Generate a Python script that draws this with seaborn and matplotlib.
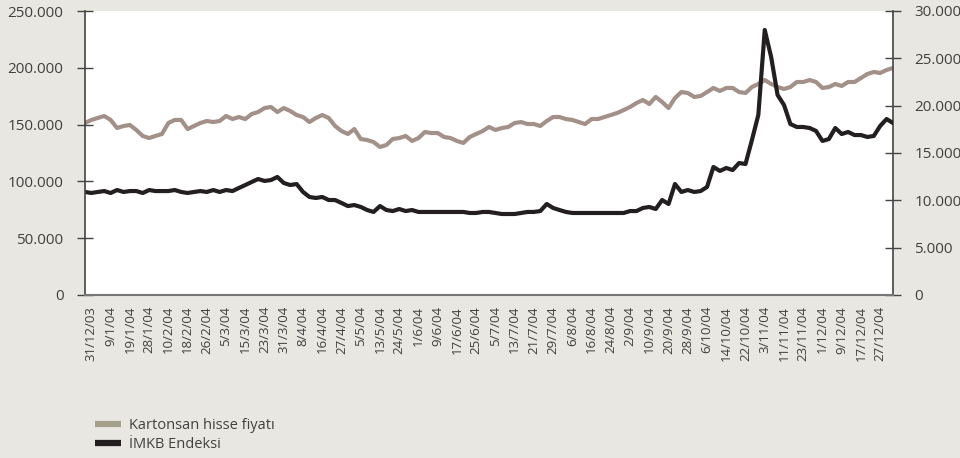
import numpy as np
import pandas as pd
import matplotlib
matplotlib.use('Agg')
import matplotlib.pyplot as plt
from matplotlib.lines import Line2D
from matplotlib.ticker import FuncFormatter
import seaborn as sns

# Kartonsan share price (right axis), every 2nd trading day
kartonsan = [18170, 18490, 18700, 18910, 18490, 17640, 17850, 17960, 17430, 16800,
             16580, 16800, 17010, 18170, 18490, 18490, 17530, 17850, 18170, 18380,
             18270, 18380, 18910, 18590, 18800, 18590, 19120, 19330, 19750, 19860,
             19330, 19750, 19440, 19010, 18800, 18270, 18700, 19010, 18700, 17850,
             17320, 17010, 17530, 16480, 16370, 16160, 15630, 15850, 16480, 16580,
             16800, 16270, 16580, 17220, 17110, 17110, 16690, 16580, 16270, 16060,
             16690, 17010, 17320, 17750, 17430, 17640, 17750, 18170, 18270, 18060,
             18060, 17850, 18380, 18800, 18800, 18590, 18490, 18270, 18060, 18590,
             18590, 18800, 19010, 19230, 19540, 19860, 20280, 20600, 20180, 20920,
             20390, 19750, 20810, 21440, 21340, 20920, 21020, 21440, 21870, 21550,
             21870, 21870, 21440, 21340, 21970, 22290, 22710, 22290, 21970, 21760,
             21970, 22500, 22500, 22710, 22500, 21870, 21970, 22290, 22080, 22500,
             22500, 22920, 23340, 23560, 23450, 23770, 23980]

# IMKB index (left axis)
imkb = [90700, 89800, 90700, 91500, 89800, 92400, 90700, 91500, 91500, 89800,
        92400, 91500, 91500, 91500, 92400, 90700, 89800, 90700, 91500, 90700,
        92400, 90700, 92400, 91500, 94200, 96800, 99500, 102100, 100400, 101200,
        103900, 98600, 96800, 97700, 90700, 86300, 85400, 86300, 83600, 83600,
        81000, 78300, 79200, 77500, 74800, 73100, 78300, 74800, 73900, 75700,
        73900, 74800, 73100, 73100, 73100, 73100, 73100, 73100, 73100, 73100,
        72200, 72200, 73100, 73100, 72200, 71300, 71300, 71300, 72200, 73100,
        73100, 73900, 80100, 76600, 74800, 73100, 72200, 72200, 72200, 72200,
        72200, 72200, 72200, 72200, 72200, 73900, 73900, 76600, 77500, 75700,
        83600, 80100, 97700, 90700, 92400, 90700, 91500, 95100, 112700, 109200,
        111800, 110000, 116200, 115300, 136400, 158500, 233300, 209500, 176100, 167300,
        150500, 147900, 147900, 147000, 144400, 135600, 137300, 147000, 141700, 143500,
        140800, 140800, 139100, 140000, 148800, 154900, 151400]

date_labels = ['31/12/03', '9/1/04', '19/1/04', '28/1/04', '10/2/04', '18/2/04',
               '26/2/04', '5/3/04', '15/3/04', '23/3/04', '31/3/04', '8/4/04',
               '16/4/04', '27/4/04', '5/5/04', '13/5/04', '24/5/04', '1/6/04',
               '9/6/04', '17/6/04', '25/6/04', '5/7/04', '13/7/04', '21/7/04',
               '29/7/04', '6/8/04', '16/8/04', '24/8/04', '2/9/04', '10/9/04',
               '20/9/04', '28/9/04', '6/10/04', '14/10/04', '22/10/04', '3/11/04',
               '11/11/04', '23/11/04', '1/12/04', '9/12/04', '17/12/04', '27/12/04']

df = pd.DataFrame({'idx': np.arange(len(kartonsan)), 'kartonsan': kartonsan, 'imkb': imkb})

sns.set_theme(style='white')
plt.rcParams['font.family'] = ['Open Sans', 'DejaVu Sans']

BG = '#e8e7e2'
TXT = '#404040'
GRAY_LINE = '#a39189'
BLACK_LINE = '#231f20'

fig = plt.figure(figsize=(9.6, 4.58), dpi=100, facecolor=BG)
ax = fig.add_axes([85 / 960, 1 - 295 / 458, (893 - 85) / 960, (295 - 11) / 458])
ax2 = ax.twinx()
# black line on top of the gray one, white plot area from the twin
ax.set_zorder(2)
ax2.set_zorder(1)
ax.patch.set_visible(False)
ax2.patch.set_visible(True)
ax2.patch.set_facecolor('white')

sns.lineplot(data=df, x='idx', y='kartonsan', ax=ax2, color=GRAY_LINE, lw=3)
sns.lineplot(data=df, x='idx', y='imkb', ax=ax, color=BLACK_LINE, lw=3)

fmt = FuncFormatter(lambda v, p: f'{int(v):,}'.replace(',', '.'))
ax.set_ylim(0, 250000)
ax.set_yticks(np.arange(0, 250001, 50000))
ax.yaxis.set_major_formatter(fmt)
ax2.set_ylim(0, 30000)
ax2.set_yticks(np.arange(0, 30001, 5000))
ax2.yaxis.set_major_formatter(fmt)

ax.set_xlim(0, len(kartonsan) - 1)
ax.set_xticks([1 + 3 * i for i in range(len(date_labels))])
ax.set_xticklabels(date_labels, rotation=90, va='top', ha='center')
ax.set_xlabel('')
ax.set_ylabel('')
ax2.set_ylabel('')

ax.tick_params(axis='x', length=0, pad=8, labelsize=9.5, colors=TXT)
ax.tick_params(axis='y', direction='inout', length=11, width=1, color='#444',
               pad=10, labelsize=11, labelcolor=TXT)
ax2.tick_params(axis='y', direction='inout', length=11, width=1, color='#444',
                pad=10, labelsize=11, labelcolor=TXT)

for s in ['top', 'right']:
    ax.spines[s].set_visible(False)
for s in ['top', 'left', 'bottom']:
    ax2.spines[s].set_visible(False)
ax.spines['left'].set_color('#444')
ax.spines['left'].set_linewidth(1.2)
ax.spines['bottom'].set_color('#777')
ax.spines['bottom'].set_linewidth(1.5)
ax2.spines['right'].set_color('#444')
ax2.spines['right'].set_linewidth(1.2)

handles = [Line2D([0], [0], color='#a3a18b', lw=4.5, solid_capstyle='butt'),
           Line2D([0], [0], color=BLACK_LINE, lw=4.5, solid_capstyle='butt')]
leg = fig.legend(handles, ['Kartonsan hisse fiyatı', 'İMKB Endeksi'],
                 loc='upper left', bbox_to_anchor=(95 / 960, 1 - 418 / 458),
                 frameon=False, fontsize=10.5, handlelength=1.8, handletextpad=0.5,
                 labelspacing=0.3, borderpad=0, borderaxespad=0)
for t in leg.get_texts():
    t.set_color(TXT)

fig.savefig('out.png', dpi=100, facecolor=BG)
